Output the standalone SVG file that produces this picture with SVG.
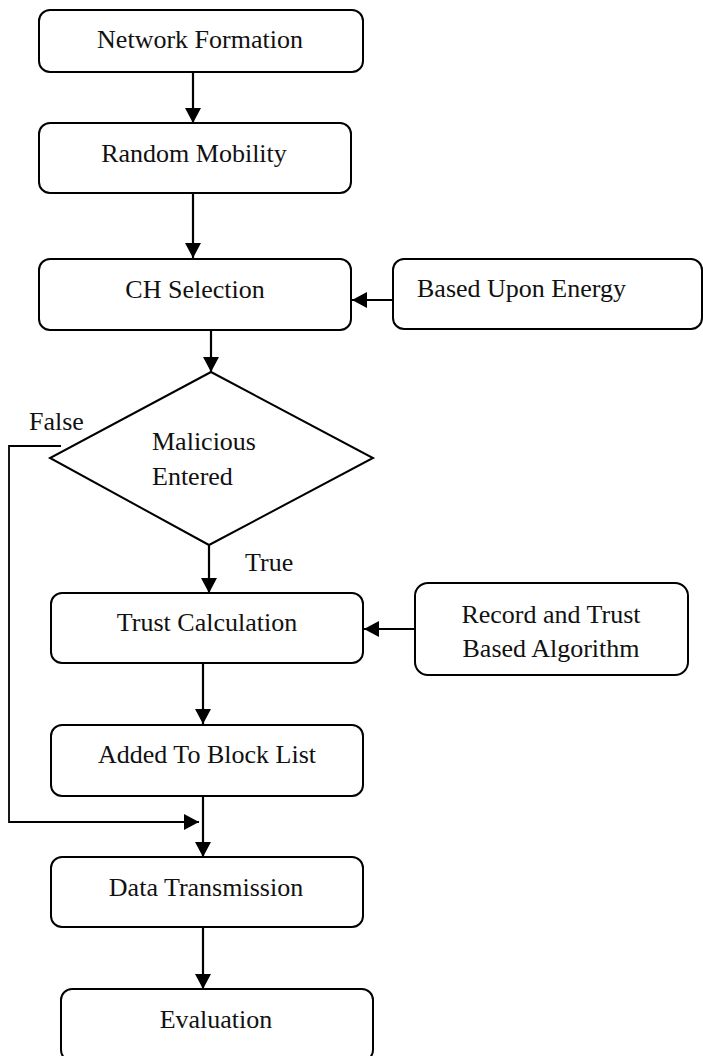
<svg xmlns="http://www.w3.org/2000/svg" width="703" height="1056" viewBox="0 0 703 1056">
<defs>
<style>
.box{fill:#fff;stroke:#000;stroke-width:2}
.t{font-family:"Liberation Serif","Times New Roman",serif;font-size:26px;fill:#111}
.c{text-anchor:middle}
.ln{fill:none;stroke:#000;stroke-width:2.2}
.thin{fill:none;stroke:#000;stroke-width:1.8}
</style>
<marker id="ah" markerUnits="userSpaceOnUse" markerWidth="16" markerHeight="16" refX="15" refY="8" orient="auto">
<path d="M0,0 L15,8 L0,16 z" fill="#000"/>
</marker>
</defs>
<rect width="703" height="1056" fill="#fff"/>
<g id="connectors">
<line class="ln" x1="193" y1="72" x2="193" y2="123" marker-end="url(#ah)"/>
<line class="ln" x1="193" y1="193" x2="193" y2="258" marker-end="url(#ah)"/>
<line class="ln" x1="393" y1="300" x2="352" y2="300" marker-end="url(#ah)"/>
<line class="ln" x1="211" y1="330" x2="211" y2="372" marker-end="url(#ah)"/>
<line class="ln" x1="209" y1="544" x2="209" y2="593" marker-end="url(#ah)"/>
<line class="ln" x1="415" y1="629" x2="364" y2="629" marker-end="url(#ah)"/>
<line class="ln" x1="203" y1="663" x2="203" y2="724" marker-end="url(#ah)"/>
<line class="ln" x1="203" y1="796" x2="203" y2="857" marker-end="url(#ah)"/>
<polyline class="thin" points="61,446 9,446 9,822 199,822" marker-end="url(#ah)"/>
<line class="ln" x1="203" y1="927" x2="203" y2="989" marker-end="url(#ah)"/>
</g>
<g id="n1"><rect class="box" x="39" y="10" width="324" height="62" rx="11"/><text class="t c" x="200" y="48">Network Formation</text></g>
<g id="n2"><rect class="box" x="39" y="123" width="312" height="70" rx="11"/><text class="t c" x="194" y="162">Random Mobility</text></g>
<g id="n3"><rect class="box" x="39" y="259" width="312" height="71" rx="11"/><text class="t c" x="195" y="298">CH Selection</text></g>
<g id="n4"><rect class="box" x="393" y="259" width="309" height="70" rx="11"/><text class="t" x="417" y="297">Based Upon Energy</text></g>
<g id="n5"><polygon class="box" points="211,372 373,458 209,545 50,458"/><text class="t" x="152" y="450">Malicious</text><text class="t" x="152" y="485">Entered</text></g>
<g id="lbl-false"><text class="t" x="29" y="430">False</text></g>
<g id="lbl-true"><text class="t" x="245" y="571">True</text></g>
<g id="n6"><rect class="box" x="51" y="593" width="312" height="70" rx="11"/><text class="t c" x="207" y="631">Trust Calculation</text></g>
<g id="n7"><rect class="box" x="415" y="583" width="273" height="92" rx="13"/><text class="t c" x="551" y="623">Record and Trust</text><text class="t c" x="551" y="657">Based Algorithm</text></g>
<g id="n8"><rect class="box" x="51" y="725" width="312" height="71" rx="11"/><text class="t c" x="207" y="763">Added To Block List</text></g>
<g id="n9"><rect class="box" x="51" y="857" width="312" height="70" rx="11"/><text class="t c" x="206" y="896">Data Transmission</text></g>
<g id="n10"><rect class="box" x="61" y="989" width="312" height="72" rx="11"/><text class="t c" x="216" y="1028">Evaluation</text></g>
</svg>
